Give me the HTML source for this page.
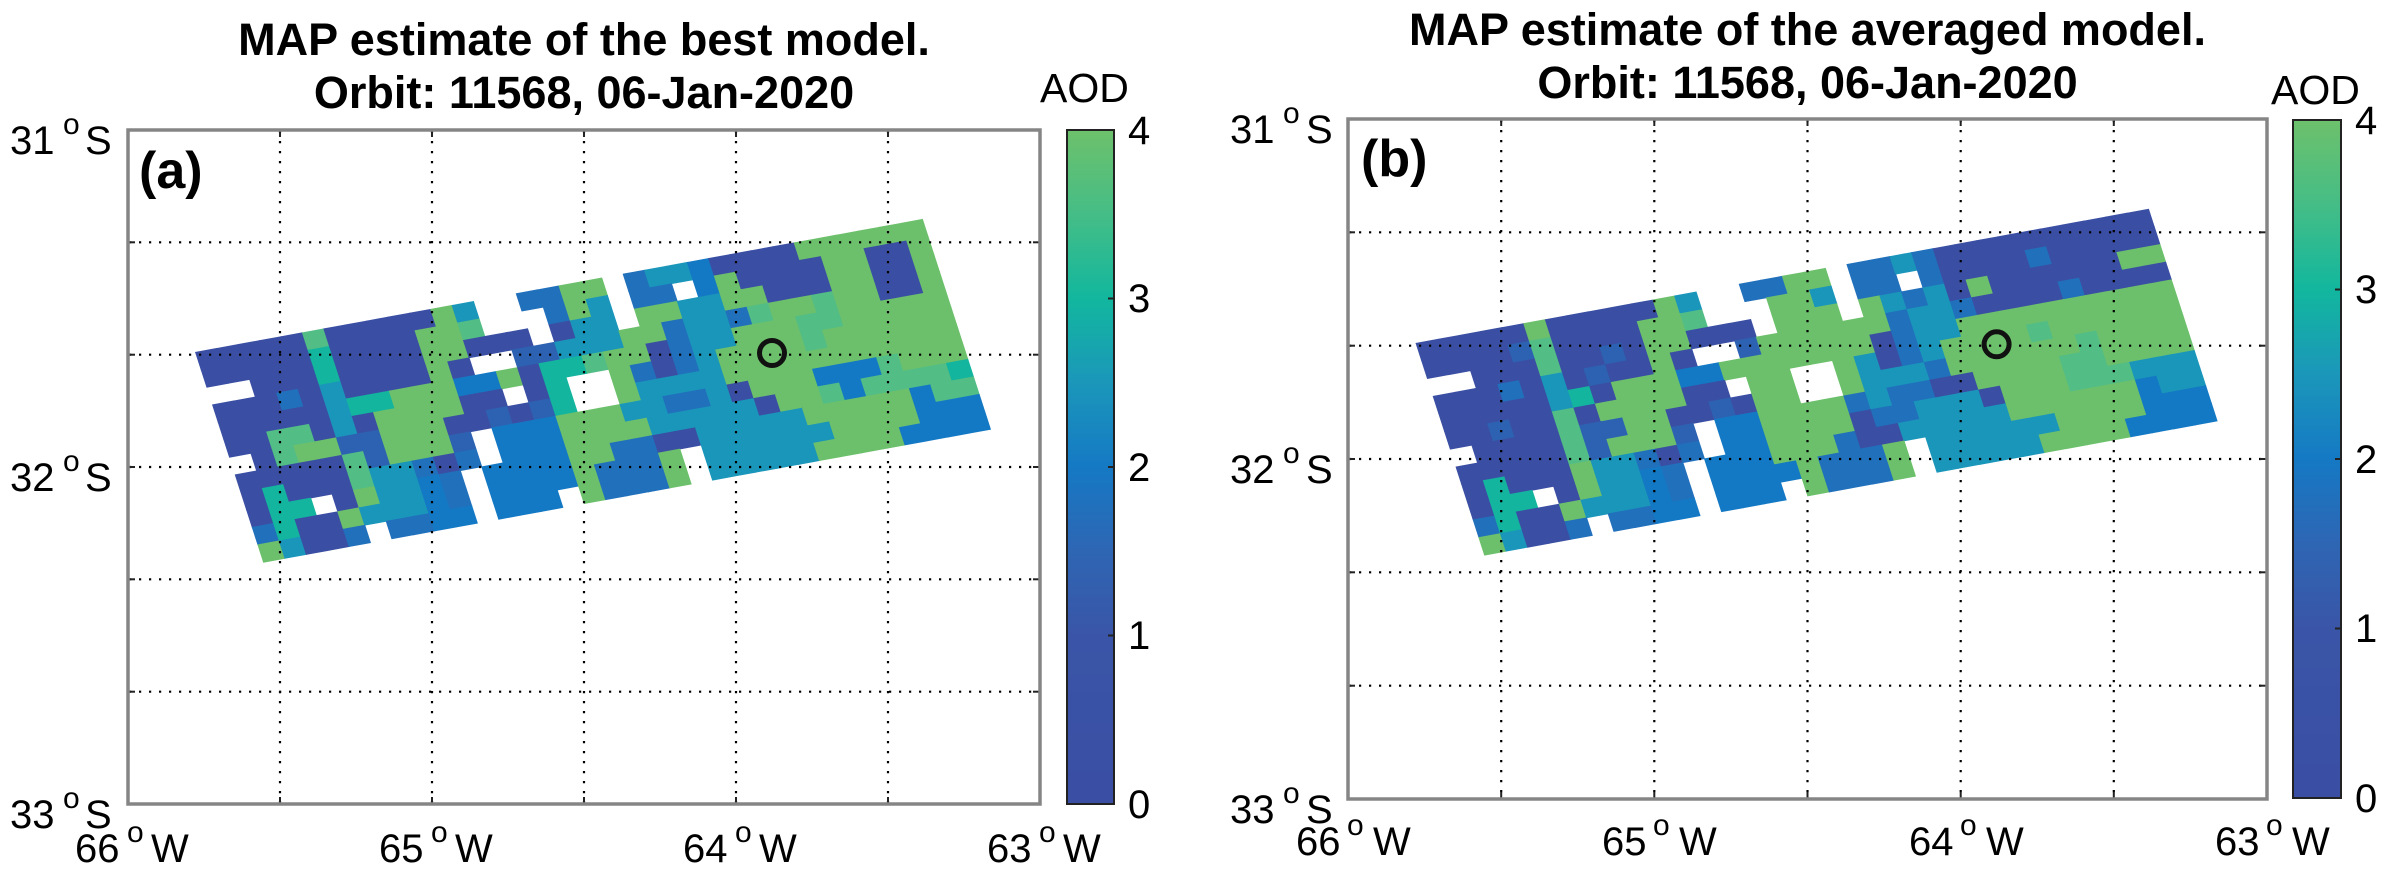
<!DOCTYPE html>
<html>
<head>
<meta charset="utf-8">
<style>
html,body{margin:0;padding:0;background:#fff;}
svg{display:block;}
text{font-family:"Liberation Sans",Arial,Helvetica,sans-serif;fill:#000;}
</style>
</head>
<body>
<svg xmlns="http://www.w3.org/2000/svg" width="2400" height="887" viewBox="0 0 2400 887">
<defs>
<linearGradient id="cb" x1="0" y1="1" x2="0" y2="0">
<stop offset="0" stop-color="#3a4ea3"/>
<stop offset="0.25" stop-color="#3a55a7"/>
<stop offset="0.375" stop-color="#2e66b4"/>
<stop offset="0.5" stop-color="#1579c4"/>
<stop offset="0.625" stop-color="#1b97ba"/>
<stop offset="0.75" stop-color="#12b79e"/>
<stop offset="0.875" stop-color="#45bd86"/>
<stop offset="1" stop-color="#6dc16b"/>
</linearGradient>
</defs>
<rect x="0" y="0" width="2400" height="887" fill="#fff"/>

<!-- swaths -->
<g id="swA" transform="matrix(21.38,-3.91,5.67,17.5,195,352)"></g>
<g id="swB" transform="matrix(21.544,-3.945,5.714,17.656,1415.5,343)"></g>

<!-- Panel A grid -->
<g stroke="#000" stroke-width="2.2" stroke-dasharray="2.2 7.8" fill="none">
<line x1="280" y1="131" x2="280" y2="803"/>
<line x1="432" y1="131" x2="432" y2="803"/>
<line x1="584" y1="131" x2="584" y2="803"/>
<line x1="736" y1="131" x2="736" y2="803"/>
<line x1="888" y1="131" x2="888" y2="803"/>
<line x1="129" y1="242.3" x2="1039" y2="242.3"/>
<line x1="129" y1="354.7" x2="1039" y2="354.7"/>
<line x1="129" y1="467" x2="1039" y2="467"/>
<line x1="129" y1="579.3" x2="1039" y2="579.3"/>
<line x1="129" y1="691.7" x2="1039" y2="691.7"/>
</g>
<g stroke="#222" stroke-width="2">
<line x1="280" y1="130" x2="280" y2="137"/><line x1="280" y1="797" x2="280" y2="804"/>
<line x1="432" y1="130" x2="432" y2="137"/><line x1="432" y1="797" x2="432" y2="804"/>
<line x1="584" y1="130" x2="584" y2="137"/><line x1="584" y1="797" x2="584" y2="804"/>
<line x1="736" y1="130" x2="736" y2="137"/><line x1="736" y1="797" x2="736" y2="804"/>
<line x1="888" y1="130" x2="888" y2="137"/><line x1="888" y1="797" x2="888" y2="804"/>
<line x1="128" y1="242.3" x2="135" y2="242.3"/><line x1="1033" y1="242.3" x2="1040" y2="242.3"/>
<line x1="128" y1="354.7" x2="135" y2="354.7"/><line x1="1033" y1="354.7" x2="1040" y2="354.7"/>
<line x1="128" y1="467" x2="135" y2="467"/><line x1="1033" y1="467" x2="1040" y2="467"/>
<line x1="128" y1="579.3" x2="135" y2="579.3"/><line x1="1033" y1="579.3" x2="1040" y2="579.3"/>
<line x1="128" y1="691.7" x2="135" y2="691.7"/><line x1="1033" y1="691.7" x2="1040" y2="691.7"/>
</g>
<rect x="128" y="130" width="912" height="674" fill="none" stroke="#858585" stroke-width="3.5"/>
<circle cx="772" cy="353" r="12.5" fill="none" stroke="#111" stroke-width="5"/>

<!-- Panel B grid -->
<g stroke="#000" stroke-width="2.2" stroke-dasharray="2.2 7.8" fill="none">
<line x1="1501.2" y1="120" x2="1501.2" y2="798"/>
<line x1="1654.3" y1="120" x2="1654.3" y2="798"/>
<line x1="1807.5" y1="120" x2="1807.5" y2="798"/>
<line x1="1960.7" y1="120" x2="1960.7" y2="798"/>
<line x1="2113.8" y1="120" x2="2113.8" y2="798"/>
<line x1="1349" y1="232.3" x2="2266" y2="232.3"/>
<line x1="1349" y1="345.7" x2="2266" y2="345.7"/>
<line x1="1349" y1="459" x2="2266" y2="459"/>
<line x1="1349" y1="572.3" x2="2266" y2="572.3"/>
<line x1="1349" y1="685.7" x2="2266" y2="685.7"/>
</g>
<g stroke="#222" stroke-width="2">
<line x1="1501.2" y1="119" x2="1501.2" y2="126"/><line x1="1501.2" y1="792" x2="1501.2" y2="799"/>
<line x1="1654.3" y1="119" x2="1654.3" y2="126"/><line x1="1654.3" y1="792" x2="1654.3" y2="799"/>
<line x1="1807.5" y1="119" x2="1807.5" y2="126"/><line x1="1807.5" y1="792" x2="1807.5" y2="799"/>
<line x1="1960.7" y1="119" x2="1960.7" y2="126"/><line x1="1960.7" y1="792" x2="1960.7" y2="799"/>
<line x1="2113.8" y1="119" x2="2113.8" y2="126"/><line x1="2113.8" y1="792" x2="2113.8" y2="799"/>
<line x1="1348" y1="232.3" x2="1355" y2="232.3"/><line x1="2260" y1="232.3" x2="2267" y2="232.3"/>
<line x1="1348" y1="345.7" x2="1355" y2="345.7"/><line x1="2260" y1="345.7" x2="2267" y2="345.7"/>
<line x1="1348" y1="459" x2="1355" y2="459"/><line x1="2260" y1="459" x2="2267" y2="459"/>
<line x1="1348" y1="572.3" x2="1355" y2="572.3"/><line x1="2260" y1="572.3" x2="2267" y2="572.3"/>
<line x1="1348" y1="685.7" x2="1355" y2="685.7"/><line x1="2260" y1="685.7" x2="2267" y2="685.7"/>
</g>
<rect x="1348" y="119" width="919" height="680" fill="none" stroke="#858585" stroke-width="3.5"/>
<circle cx="1996.6" cy="344.3" r="12.5" fill="none" stroke="#111" stroke-width="5"/>

<!-- Colorbars -->
<rect x="1067" y="130" width="47" height="674" fill="url(#cb)" stroke="#222" stroke-width="2"/>
<g stroke="#222" stroke-width="2">
<line x1="1108" y1="298.5" x2="1114" y2="298.5"/>
<line x1="1108" y1="467" x2="1114" y2="467"/>
<line x1="1108" y1="635.5" x2="1114" y2="635.5"/>
</g>
<rect x="2293" y="120" width="48" height="678" fill="url(#cb)" stroke="#222" stroke-width="2"/>
<g stroke="#222" stroke-width="2">
<line x1="2335" y1="289.5" x2="2341" y2="289.5"/>
<line x1="2335" y1="459" x2="2341" y2="459"/>
<line x1="2335" y1="628.5" x2="2341" y2="628.5"/>
</g>

<!-- Titles -->
<g font-weight="bold" font-size="45" text-anchor="middle">
<text x="584" y="55">MAP estimate of the best model.</text>
<text x="584" y="108">Orbit: 11568, 06-Jan-2020</text>
<text x="1807.5" y="45">MAP estimate of the averaged model.</text>
<text x="1807.5" y="98">Orbit: 11568, 06-Jan-2020</text>
</g>
<text x="139" y="188" font-size="52" font-weight="bold">(a)</text>
<text x="1361" y="176" font-size="52" font-weight="bold">(b)</text>

<!-- AOD -->
<text x="1040" y="102" font-size="41">AOD</text>
<text x="2271" y="104" font-size="41">AOD</text>

<!-- Colorbar labels A -->
<g font-size="40">
<text x="1128" y="144">4</text>
<text x="1128" y="312">3</text>
<text x="1128" y="481">2</text>
<text x="1128" y="649">1</text>
<text x="1128" y="818">0</text>
<text x="2355" y="134">4</text>
<text x="2355" y="303">3</text>
<text x="2355" y="473">2</text>
<text x="2355" y="642">1</text>
<text x="2355" y="812">0</text>
</g>

<!-- Y labels A -->
<g font-size="40">
<text x="10" y="154">31</text><text x="63" y="134" font-size="30">o</text><text x="85" y="154">S</text>
<text x="10" y="491">32</text><text x="63" y="471" font-size="30">o</text><text x="85" y="491">S</text>
<text x="10" y="828">33</text><text x="63" y="808" font-size="30">o</text><text x="85" y="828">S</text>
</g>
<!-- X labels A -->
<g font-size="40">
<text x="75" y="862">66</text><text x="127" y="842" font-size="30">o</text><text x="151" y="862">W</text>
<text x="379" y="862">65</text><text x="431" y="842" font-size="30">o</text><text x="455" y="862">W</text>
<text x="683" y="862">64</text><text x="735" y="842" font-size="30">o</text><text x="759" y="862">W</text>
<text x="987" y="862">63</text><text x="1039" y="842" font-size="30">o</text><text x="1063" y="862">W</text>
</g>

<!-- Y labels B -->
<g font-size="40">
<text x="1230" y="143">31</text><text x="1283" y="123" font-size="30">o</text><text x="1306" y="143">S</text>
<text x="1230" y="483">32</text><text x="1283" y="463" font-size="30">o</text><text x="1306" y="483">S</text>
<text x="1230" y="823">33</text><text x="1283" y="803" font-size="30">o</text><text x="1306" y="823">S</text>
</g>
<!-- X labels B -->
<g font-size="40">
<text x="1296" y="855">66</text><text x="1347" y="835" font-size="30">o</text><text x="1373" y="855">W</text>
<text x="1602" y="855">65</text><text x="1653" y="835" font-size="30">o</text><text x="1679" y="855">W</text>
<text x="1909" y="855">64</text><text x="1960" y="835" font-size="30">o</text><text x="1986" y="855">W</text>
<text x="2215" y="855">63</text><text x="2266" y="835" font-size="30">o</text><text x="2292" y="855">W</text>
</g>
</svg>

<script>
(function(){
var pal={D:'#3a4fa3',M:'#2d62b2',B:'#2170bc',X:'#1479c4',T:'#1a96ba',C:'#13b59e',L:'#52bd85',G:'#6cc06b'};
var A=[
"DDDDDLDDDDDGT..BBGG.BTTXDDDDGGGGGG",
"DDDDDCDDDDGGL...BGT.BB.XGDDDDGGDDG",
"..DDDCDDDDGGDDD.DTT.GGTTGGDDDGGDDG",
"DDDBDTDDDDGD..MMTTTGGBTTBLGGLGGDDG",
"DDDDDTCCGGGXXGDCCLGGDBTTGGGLLGGGGG",
"DDLLDTDGGGGDD.DC..GBDBTGGGGLGGGGGG",
".DLGGMMGGGDDMDMC..GTTTTGGGGGGGGGGG",
"DDDDDLMGGGM.XXXGGGTTBBTDGGGXXXLGGG",
"DCDDDLTTBDB.XXXGGGGTTTTTDGGLXLLLLC",
"DCC.DGTTXB.XXXXGGBBDDTTTTTGGGGGXLL",
"BCDDGTTTXB.XXXXGBBBG.TTTTTTGGGGXXX",
"GTDDB.BBXX.XXX.GBBBG.TTTTTGGGGXXXX"
];
var Bg=[
"DDDDDGDDDDDGT..BBGG.BBTBDDDDDDDDDD",
"DDDDMLDDDDGGL...GGT.BB.BDDDDBDDDDD",
"..DDDLDDMDGGDDD.GGG.GTBTDGDDDDDDGG",
"DDDBDTDMDDGD..MGGGGGGBTTBDDDDBDDDD",
"DDDDDTCDGGGXXGGGGGGGDBTTGGGGGGGGGG",
"DDMDDLDGGGGDD.GG..GTDBTGGGGLGGGGGG",
".DDDDLMMGGDDMDGG..GTTTBGGGGGGLGGGG",
"DDDDDLMGGGM.XXGGGGBTBBDDGGGGLLGGGG",
"DCDDDGTTBDB.XXGGGGDBBTTTDGGGLLLTTT",
"DCC.DGTTXB.XXXGGGBDDTTTTTGGGGGGXTT",
"BCDDGTTTXB.XXXXGBBBG.TTTTTTGGGGXXX",
"GTDDB.BBXX.XXX.GBBBG.TTTTTGGGGXXXX"
];
function fill(id,rows){
  var g=document.getElementById(id);
  var ns='http://www.w3.org/2000/svg';
  for(var j=0;j<rows.length;j++){
    var r=rows[j];
    for(var i=0;i<r.length;i++){
      var c=r.charAt(i);
      if(c==='.'||!pal[c])continue;
      var e=document.createElementNS(ns,'rect');
      e.setAttribute('x',i);e.setAttribute('y',j);
      e.setAttribute('width','1.04');e.setAttribute('height','1.04');
      e.setAttribute('fill',pal[c]);
      g.appendChild(e);
    }
  }
}
fill('swA',A);
fill('swB',Bg);
})();
</script>
</body>
</html>
